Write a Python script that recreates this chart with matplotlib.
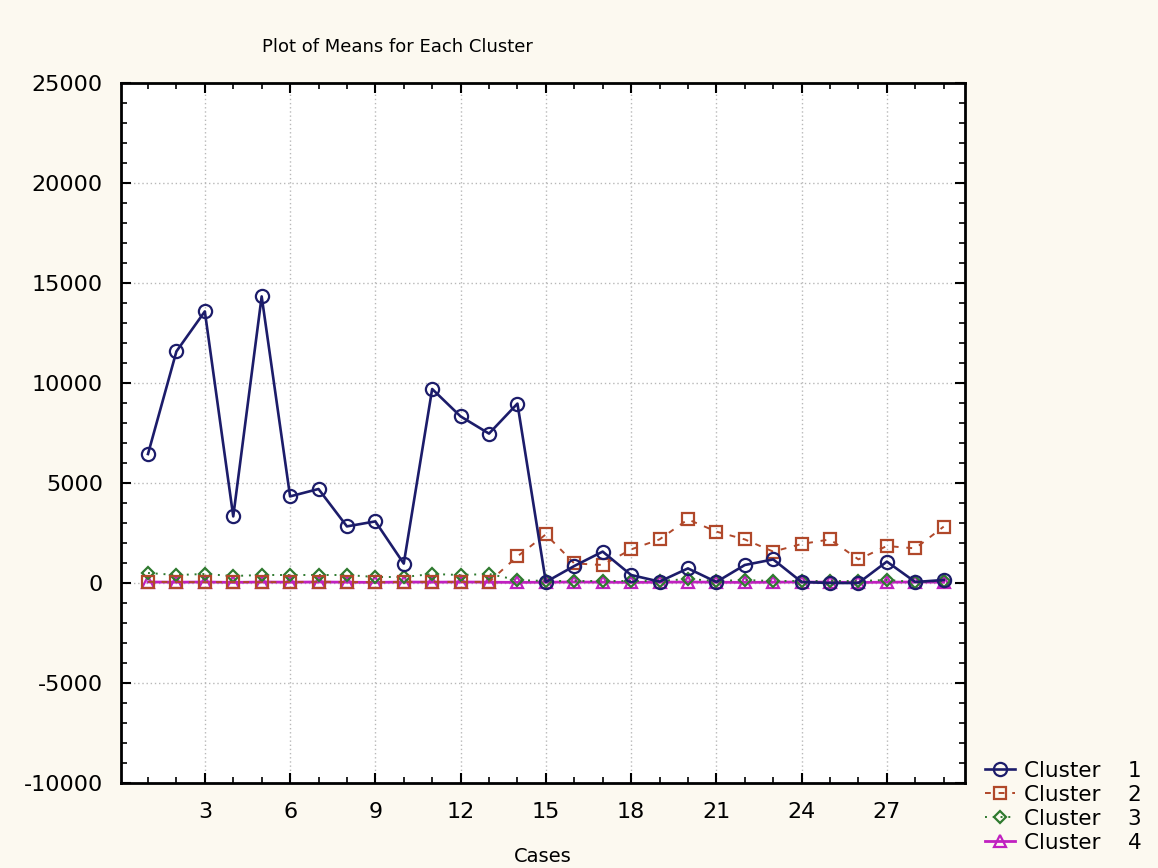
import matplotlib
matplotlib.use("Agg")
import matplotlib.pyplot as plt
from matplotlib.ticker import MultipleLocator

# Mean value per case for each cluster
cases = list(range(1, 30))
cluster1 = [6450, 11580, 13580, 3330, 14330, 4330, 4700, 2830, 3080, 970,
            9700, 8330, 7470, 8970, 50, 850, 1570, 400, 70, 730,
            50, 900, 1180, 50, 0, 0, 1070, 50, 150]
cluster2 = [60, 50, 40, 50, 40, 50, 60, 50, 40, 50,
            60, 50, 60, 1330, 2430, 980, 900, 1680, 2180, 3180,
            2570, 2180, 1570, 1950, 2180, 1180, 1850, 1730, 2820]
cluster3 = [500, 400, 450, 350, 400, 400, 400, 400, 300, 300,
            450, 400, 450, 150, 100, 100, 100, 100, 100, 200,
            100, 150, 100, 100, 100, 100, 150, 50, 100]
cluster4 = [50, 40, 50, 30, 50, 40, 50, 40, 30, 50,
            40, 50, 40, 30, 40, 50, 40, 30, 40, 50,
            40, 30, 40, 50, 40, 30, 40, 50, 40]
labels = ["Cluster    1", "Cluster    2", "Cluster    3", "Cluster    4"]

plt.rcParams["font.family"] = ["DejaVu Sans"]
plt.rcParams["axes.unicode_minus"] = False

W, H = 1158, 868
fig = plt.figure(figsize=(W / 100, H / 100), dpi=100, facecolor="#fcf9f0")
ax = fig.add_axes([121 / W, 1 - 783 / H, (965 - 121) / W, (783 - 83) / H])
ax.set_facecolor("white")

styles = [
    dict(color="#1c1c6a", ls="-", marker="o", ms=9.5, lw=1.9),
    dict(color="#b0482a", ls=(0, (3, 4)), marker="s", ms=9.0, lw=1.4),
    dict(color="#2f7a2f", ls=(0, (1, 3)), marker="D", ms=6.5, lw=1.4),
    dict(color="#c020c0", ls="-", marker="^", ms=9.0, lw=2.0),
]
series = [cluster1, cluster2, cluster3, cluster4]
handles = []
for vals, st, lab in zip(reversed(series), reversed(styles), reversed(labels)):
    h, = ax.plot(cases, vals, color=st["color"], ls=st["ls"], lw=st["lw"],
                 marker=st["marker"], ms=st["ms"], mfc="none",
                 mec=st["color"], mew=1.6, label=lab)
    handles.append(h)
handles = handles[::-1]

ax.set_xlim(0.05, 29.75)
ax.set_ylim(-10000, 25000)
ax.xaxis.set_minor_locator(MultipleLocator(1))
ax.yaxis.set_major_locator(MultipleLocator(5000))
ax.yaxis.set_minor_locator(MultipleLocator(1000))
ax.set_xticks(range(3, 30, 3))
ax.tick_params(which="both", direction="in", top=True, right=True,
               color="black", labelsize=16)
ax.tick_params(which="major", length=7, width=1.5)
ax.tick_params(which="minor", length=4, width=1.2)
ax.tick_params(axis="x", pad=14)
ax.tick_params(axis="y", pad=13)
for sp in ax.spines.values():
    sp.set_linewidth(2)
ax.grid(True, which="major", color="#b8b8b8", ls=(0, (1, 2)), lw=1)

ax.set_xlabel("Cases", fontsize=14, labelpad=18)
fig.text(397 / W, 1 - 47 / H, "Plot of Means for Each Cluster",
         ha="center", va="center", fontsize=13)

fig.legend(handles=handles, labels=labels, loc="upper left",
           bbox_to_anchor=(985 / W, 1 - 761 / H), frameon=False,
           fontsize=15.5, handlelength=1.4, handletextpad=0.4,
           labelspacing=0.18, borderpad=0, borderaxespad=0)

fig.savefig("out.png", dpi=100, facecolor=fig.get_facecolor())
